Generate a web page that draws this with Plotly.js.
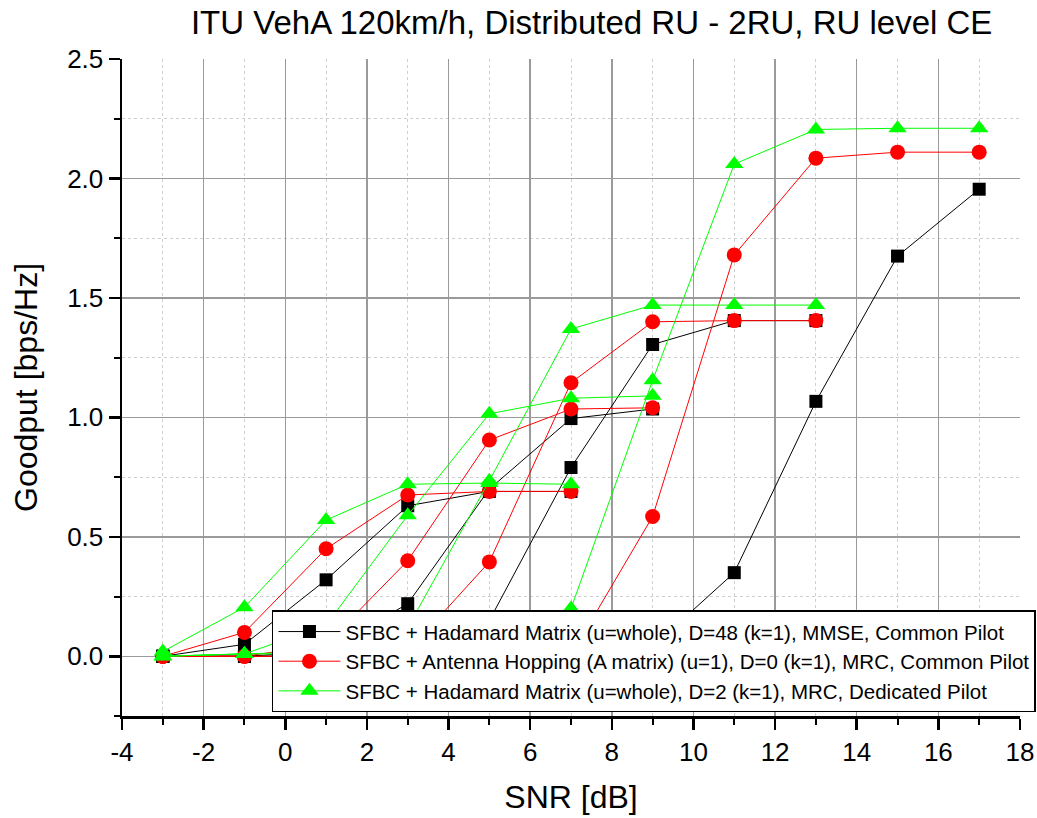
<!DOCTYPE html>
<html>
<head>
<meta charset="utf-8">
<script src="https://cdn.plot.ly/plotly-3.0.1.min.js"></script>
<style>html,body{margin:0;padding:0;background:#fff;}#chart{width:1037px;height:818px;}</style>
</head>
<body>
<div id="chart"></div>
<script>
// SNR values (dB)
const snr = [-3, -1, 1, 3, 5, 7, 9, 11, 13, 15, 17];

// Series 1: SFBC + Hadamard Matrix (u=whole), D=48 (k=1), MMSE, Common Pilot (black) - four MCS curves
const black1 = [0, 0.05, 0.32, 0.63, 0.69, 0.69];
const black2 = [0, 0, 0.02, 0.22, 0.70, 0.995, 1.035];
const black3 = [0, 0, 0, 0, 0.15, 0.79, 1.305, 1.405, 1.405];
const black4 = [0, 0, 0, 0, 0, 0, 0.04, 0.35, 1.067, 1.675, 1.955];

// Series 2: SFBC + Antenna Hopping (A matrix) (u=1), D=0 (k=1), MRC, Common Pilot (red)
const red1 = [0, 0.10, 0.45, 0.675, 0.69, 0.69];
const red2 = [0, 0, 0.05, 0.40, 0.905, 1.035, 1.04];
const red3 = [0, 0, 0, 0.02, 0.395, 1.145, 1.40, 1.405, 1.405];
const red4 = [0, 0, 0, 0, 0, 0.005, 0.585, 1.68, 2.085, 2.11, 2.11];

// Series 3: SFBC + Hadamard Matrix (u=whole), D=2 (k=1), MRC, Dedicated Pilot (green)
const green1 = [0.02, 0.205, 0.57, 0.72, 0.725, 0.72];
const green2 = [0, 0.01, 0.13, 0.59, 1.015, 1.08, 1.09];
const green3 = [0, 0.01, 0.02, 0.12, 0.735, 1.37, 1.47, 1.47, 1.47];
const green4 = [0, 0.01, 0.01, 0.01, 0.02, 0.20, 1.155, 2.06, 2.205, 2.21, 2.21];

const legendNames = [
  "SFBC + Hadamard Matrix (u=whole), D=48 (k=1), MMSE, Common Pilot",
  "SFBC + Antenna Hopping (A matrix) (u=1), D=0 (k=1), MRC, Common Pilot",
  "SFBC + Hadamard Matrix (u=whole), D=2 (k=1), MRC, Dedicated Pilot"
];
const xTicks = [-4, -2, 0, 2, 4, 6, 8, 10, 12, 14, 16, 18];
const yTicks = [0.0, 0.5, 1.0, 1.5, 2.0, 2.5];

const groups = [
  {curves: [black1, black2, black3, black4], color: "#000000", symbol: "square", size: 13, name: legendNames[0]},
  {curves: [red1, red2, red3, red4], color: "#ff0000", symbol: "circle", size: 15, name: legendNames[1]},
  {curves: [green1, green2, green3, green4], color: "#00ff00", symbol: "triangle-up", size: 16, name: legendNames[2]}
];

const traces = [];
groups.forEach((g, gi) => {
  g.curves.forEach((ys, ci) => {
    traces.push({
      x: snr.slice(0, ys.length),
      y: ys,
      type: "scatter",
      mode: "lines+markers",
      name: g.name,
      legendgroup: "g" + gi,
      showlegend: ci === 0,
      line: {color: g.color, width: 1},
      marker: {color: g.color, symbol: g.symbol, size: g.size, line: {width: 0}}
    });
  });
});

const font = "Liberation Sans, Arial, sans-serif";
const layout = {
  width: 1037,
  height: 818,
  margin: {l: 122, r: 17, t: 59, b: 102, autoexpand: false},
  paper_bgcolor: "#ffffff",
  plot_bgcolor: "#ffffff",
  font: {family: font, color: "#000000", size: 24},
  title: {
    text: "ITU VehA 120km/h, Distributed RU - 2RU, RU level CE",
    font: {family: font, size: 33, color: "#000000"},
    x: 0.523, xref: "paper", xanchor: "center",
    y: 0.972, yref: "container", yanchor: "middle"
  },
  xaxis: {
    range: [-4, 18],
    automargin: false,
    tickmode: "array",
    tickvals: xTicks,
    ticktext: xTicks.map(String),
    showgrid: true,
    gridcolor: "#9a9a9a",
    gridwidth: 1.5,
    zeroline: false,
    showline: true,
    linecolor: "#000000",
    linewidth: 2.5,
    ticks: "outside",
    ticklen: 11,
    tickwidth: 2.5,
    tickcolor: "#000000",
    tickfont: {size: 26, family: font},
    minor: {dtick: 1, tick0: -3, showgrid: true, gridcolor: "#cfcfcf", griddash: "dot", gridwidth: 1, ticks: "outside", ticklen: 6, tickwidth: 2, tickcolor: "#000000"},
    title: {text: "SNR [dB]", font: {size: 32, family: font}, standoff: 20}
  },
  yaxis: {
    range: [-0.25, 2.5],
    automargin: false,
    tickmode: "array",
    tickvals: yTicks,
    ticktext: yTicks.map(v => v.toFixed(1)),
    showgrid: true,
    gridcolor: "#9a9a9a",
    gridwidth: 1.5,
    zeroline: false,
    showline: true,
    linecolor: "#000000",
    linewidth: 2.5,
    ticks: "outside",
    ticklen: 11,
    tickwidth: 2.5,
    tickcolor: "#000000",
    tickfont: {size: 26, family: font},
    minor: {dtick: 0.25, tick0: 0, showgrid: true, gridcolor: "#cfcfcf", griddash: "dot", gridwidth: 1, ticks: "outside", ticklen: 6, tickwidth: 2, tickcolor: "#000000"},
    title: {text: "Goodput [bps/Hz]", font: {size: 32, family: font}, standoff: 20}
  },
  legend: {
    x: 0.167, xanchor: "left",
    y: 0.161, yanchor: "top",
    bgcolor: "#ffffff",
    bordercolor: "#000000",
    borderwidth: 1.5,
    font: {size: 20.5, family: font},
    tracegroupgap: 0,
    itemwidth: 62
  },
  showlegend: true
};

Plotly.newPlot("chart", traces, layout, {displayModeBar: false, staticPlot: true});
</script>
</body>
</html>
